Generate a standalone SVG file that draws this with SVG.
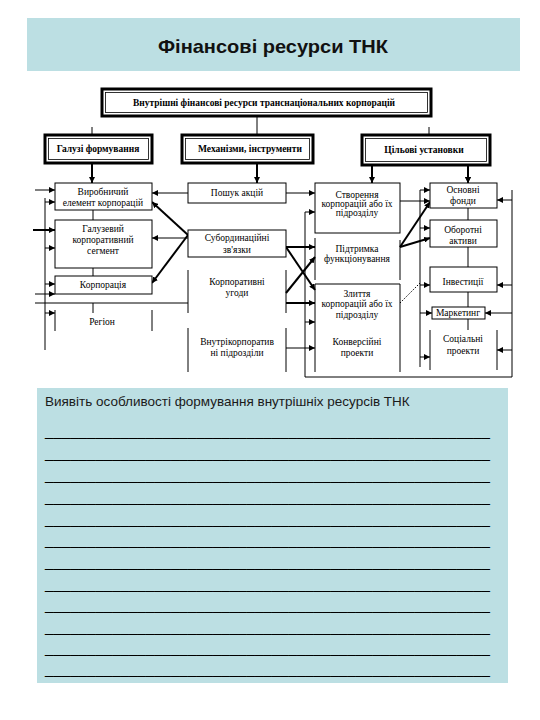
<svg xmlns="http://www.w3.org/2000/svg" width="540" height="720" viewBox="0 0 540 720">
<defs>
<style>
.panel{fill:#bcdfe3}
.bx{fill:#fff;stroke:#000;stroke-width:1}
.thk{fill:#fff;stroke:#000;stroke-width:3}
.thin{fill:none;stroke:#000;stroke-width:0.8}
.ln{fill:none;stroke:#000;stroke-width:1}
.lnb{fill:none;stroke:#000;stroke-width:2}
.dot{fill:none;stroke:#000;stroke-width:1;stroke-dasharray:1.5 1.5}
.t{font-family:"Liberation Serif","Times New Roman",serif;font-size:9.5px;fill:#000;text-anchor:middle}
.tb{font-family:"Liberation Serif","Times New Roman",serif;font-size:9.5px;font-weight:bold;fill:#000;text-anchor:middle}
.title{font-family:"Liberation Sans",Arial,sans-serif;font-size:18.5px;font-weight:bold;fill:#111;text-anchor:middle}
.q{font-family:"Liberation Sans",Arial,sans-serif;font-size:13.5px;fill:#1a1a1a}
.u{font-family:"Liberation Sans",Arial,sans-serif;font-size:15px;fill:#000}
</style>
<marker id="ah" markerWidth="6" markerHeight="6" refX="6" refY="3" orient="auto" markerUnits="userSpaceOnUse"><path d="M0,0 L6,3 L0,6 z" fill="#000"/></marker>
</defs>
<rect width="540" height="720" fill="#fff"/>

<g id="title">
<rect class="panel" x="27" y="18" width="493" height="53"/>
<text class="title" x="273" y="53" textLength="230" lengthAdjust="spacingAndGlyphs">Фінансові ресурси ТНК</text>
</g>

<g id="connectors">
<path class="ln" d="M92,127 V135 M257,117 V135 M429,127 V135"/>
<path class="lnb" d="M92,163 V183 M257,163 V183 M372,165 V183 M468,165 V183" marker-end="url(#ah)"/>
<path class="lnb" d="M92,163 V183" marker-end="url(#ah)"/>
<path class="lnb" d="M257,163 V183" marker-end="url(#ah)"/>
<path class="lnb" d="M372,165 V183" marker-end="url(#ah)"/>
<path class="lnb" d="M468,165 V183" marker-end="url(#ah)"/>
<!-- left column -->
<path class="ln" d="M93,210 V220 M93,268 V276 M93,303 V313 M45,198 V350 M35,303 H188"/>
<path class="ln" d="M35,190 H55" marker-end="url(#ah)"/>
<path class="ln" d="M45,202 H55" marker-end="url(#ah)"/>
<path class="lnb" d="M33,230 H55" marker-end="url(#ah)"/>
<path class="ln" d="M45,248 H55" marker-end="url(#ah)"/>
<path class="ln" d="M45,284 H55" marker-end="url(#ah)"/>
<path class="ln" d="M35,294 H55" marker-end="url(#ah)"/>
<path class="ln" d="M45,313 H55" marker-end="url(#ah)"/>
<!-- from middle column to left -->
<path class="ln" d="M188,193 H152" marker-end="url(#ah)"/>
<path class="lnb" d="M188,235 L152,202" marker-end="url(#ah)"/>
<path class="ln" d="M188,238 H152" marker-end="url(#ah)"/>
<path class="lnb" d="M188,235 L152,283" marker-end="url(#ah)"/>
<!-- middle to column 3 -->
<path class="ln" d="M286,193 H315" marker-end="url(#ah)"/>
<path class="lnb" d="M286,247 H315" marker-end="url(#ah)"/>
<path class="lnb" d="M286,247 L315,290" marker-end="url(#ah)"/>
<path class="lnb" d="M286,293 L315,257" marker-end="url(#ah)"/>
<path class="lnb" d="M286,303 H315" marker-end="url(#ah)"/>
<path class="ln" d="M286,348 H315" marker-end="url(#ah)"/>
<path class="ln" d="M305,212 V377 H512 V190"/>
<path class="ln" d="M305,212 H315" marker-end="url(#ah)"/>
<path class="ln" d="M305,322 H315" marker-end="url(#ah)"/>
<!-- column 3 to column 4 -->
<path class="ln" d="M420,190 V367"/>
<path class="ln" d="M420,190 H430" marker-end="url(#ah)"/>
<path class="ln" d="M400,201 H430" marker-end="url(#ah)"/>
<path class="lnb" d="M400,247 L430,202" marker-end="url(#ah)"/>
<path class="ln" d="M420,228 H430" marker-end="url(#ah)"/>
<path class="lnb" d="M400,247 L430,238" marker-end="url(#ah)"/>
<path class="ln" d="M420,285 H430" marker-end="url(#ah)"/>
<path class="dot" d="M400,303 L420,283"/>
<path class="ln" d="M420,313 H432" marker-end="url(#ah)"/>
<path class="ln" d="M420,357 H430" marker-end="url(#ah)"/>
<path class="ln" d="M468,208 V220 M468,247 V267 M468,292 V307 M468,319 V330"/>
<!-- right bus arrows -->
<path class="ln" d="M512,200 H497" marker-end="url(#ah)"/>
<path class="ln" d="M512,285 H497" marker-end="url(#ah)"/>
<path class="ln" d="M512,313 H485" marker-end="url(#ah)"/>
<path class="ln" d="M512,350 H497" marker-end="url(#ah)"/>
</g>

<g id="n-top">
<rect class="thk" x="102" y="89" width="329" height="27"/>
<rect class="thin" x="105.5" y="92.5" width="322" height="20"/>
<text class="tb" x="264" y="106" textLength="262" lengthAdjust="spacingAndGlyphs">Внутрішні фінансові ресурси транснаціональних корпорацій</text>
</g>
<g id="n-galuzi">
<rect class="thk" x="45" y="135" width="107" height="28"/>
<rect class="thin" x="48.5" y="138.5" width="100" height="21"/>
<text class="tb" x="98" y="152">Галузі формування</text>
</g>
<g id="n-mekhanizmy">
<rect class="thk" x="182" y="135" width="131" height="28"/>
<rect class="thin" x="185.5" y="138.5" width="124" height="21"/>
<text class="tb" x="250" y="152">Механізми, інструменти</text>
</g>
<g id="n-tsilovi">
<rect class="thk" x="362" y="135" width="128" height="30"/>
<rect class="thin" x="365.5" y="138.5" width="121" height="23"/>
<text class="tb" x="424" y="153">Цільові установки</text>
</g>

<g id="n-vyrobnychyi">
<rect class="bx" x="55" y="183" width="97" height="27"/>
<text class="t" x="103" y="195">Виробничий</text>
<text class="t" x="103" y="206">елемент корпорацій</text>
</g>
<g id="n-haluzevyi">
<rect class="bx" x="55" y="220" width="97" height="48"/>
<text class="t" x="103" y="232">Галузевий</text>
<text class="t" x="103" y="243">корпоративний</text>
<text class="t" x="103" y="254">сегмент</text>
</g>
<g id="n-korporatsiia">
<rect class="bx" x="55" y="276" width="97" height="18"/>
<text class="t" x="103" y="288">Корпорація</text>
</g>
<g id="n-rehion">
<path class="ln" d="M55,310 V331 M152,310 V331"/>
<text class="t" x="102" y="325">Регіон</text>
</g>

<g id="n-poshuk">
<rect class="bx" x="188" y="183" width="98" height="20"/>
<text class="t" x="237" y="196">Пошук акцій</text>
</g>
<g id="n-subord">
<rect class="bx" x="188" y="230" width="98" height="27"/>
<text class="t" x="237" y="241">Субординаційні</text>
<text class="t" x="237" y="253">зв'язки</text>
</g>
<g id="n-uhody">
<path class="ln" d="M188,270 V313 M286,270 V313"/>
<text class="t" x="237" y="285">Корпоративні</text>
<text class="t" x="237" y="296">угоди</text>
</g>
<g id="n-vnutrikorp">
<path class="ln" d="M188,328 V372 M286,328 V372"/>
<text class="t" x="237" y="345">Внутрікорпоратив</text>
<text class="t" x="237" y="356">ні підрозділи</text>
</g>

<g id="n-stvorennia">
<rect class="bx" x="315" y="183" width="85" height="50"/>
<text class="t" x="357" y="198">Створення</text>
<text class="t" x="357" y="207">корпорацій або їх</text>
<text class="t" x="357" y="216">підрозділу</text>
</g>
<g id="n-pidtrymka">
<path class="ln" d="M315,238 V280 M400,240 V280"/>
<text class="t" x="357" y="252">Підтримка</text>
<text class="t" x="357" y="262">функціонування</text>
</g>
<g id="n-zlyttia">
<path class="ln" d="M315,372 V284 H400 V372"/>
<text class="t" x="357" y="297">Злиття</text>
<text class="t" x="357" y="307">корпорацій або їх</text>
<text class="t" x="357" y="318">підрозділу</text>
<text class="t" x="357" y="345">Конверсійні</text>
<text class="t" x="357" y="356">проекти</text>
</g>

<g id="n-osnovni">
<rect class="bx" x="430" y="183" width="67" height="25"/>
<text class="t" x="463" y="193">Основні</text>
<text class="t" x="463" y="204">фонди</text>
</g>
<g id="n-oborotni">
<rect class="bx" x="430" y="220" width="67" height="27"/>
<text class="t" x="463" y="233">Оборотні</text>
<text class="t" x="463" y="244">активи</text>
</g>
<g id="n-investytsii">
<rect class="bx" x="430" y="267" width="67" height="25"/>
<text class="t" x="463" y="285">Інвестиції</text>
</g>
<g id="n-marketynh">
<rect class="bx" x="432" y="307" width="53" height="12"/>
<text class="t" x="458" y="316">Маркетинг</text>
</g>
<g id="n-sotsialni">
<path class="ln" d="M430,330 V370 M497,330 V370"/>
<text class="t" x="463" y="342">Соціальні</text>
<text class="t" x="463" y="354">проекти</text>
</g>

<g id="worksheet">
<rect class="panel" x="37" y="388" width="471" height="295"/>
<text class="q" x="45" y="406">Виявіть особливості формування внутрішніх ресурсів ТНК</text>
<text class="u" x="45" y="435.5" textLength="445" lengthAdjust="spacingAndGlyphs">_____________________________________________________</text>
<text class="u" x="45" y="457.5" textLength="445" lengthAdjust="spacingAndGlyphs">_____________________________________________________</text>
<text class="u" x="45" y="479.5" textLength="445" lengthAdjust="spacingAndGlyphs">_____________________________________________________</text>
<text class="u" x="45" y="501.5" textLength="445" lengthAdjust="spacingAndGlyphs">_____________________________________________________</text>
<text class="u" x="45" y="523.5" textLength="445" lengthAdjust="spacingAndGlyphs">_____________________________________________________</text>
<text class="u" x="45" y="544.5" textLength="445" lengthAdjust="spacingAndGlyphs">_____________________________________________________</text>
<text class="u" x="45" y="566.5" textLength="445" lengthAdjust="spacingAndGlyphs">_____________________________________________________</text>
<text class="u" x="45" y="588.5" textLength="445" lengthAdjust="spacingAndGlyphs">_____________________________________________________</text>
<text class="u" x="45" y="609.5" textLength="445" lengthAdjust="spacingAndGlyphs">_____________________________________________________</text>
<text class="u" x="45" y="631.5" textLength="445" lengthAdjust="spacingAndGlyphs">_____________________________________________________</text>
<text class="u" x="45" y="652.5" textLength="445" lengthAdjust="spacingAndGlyphs">_____________________________________________________</text>
<text class="u" x="45" y="673.5" textLength="445" lengthAdjust="spacingAndGlyphs">_____________________________________________________</text>
</g>
</svg>
